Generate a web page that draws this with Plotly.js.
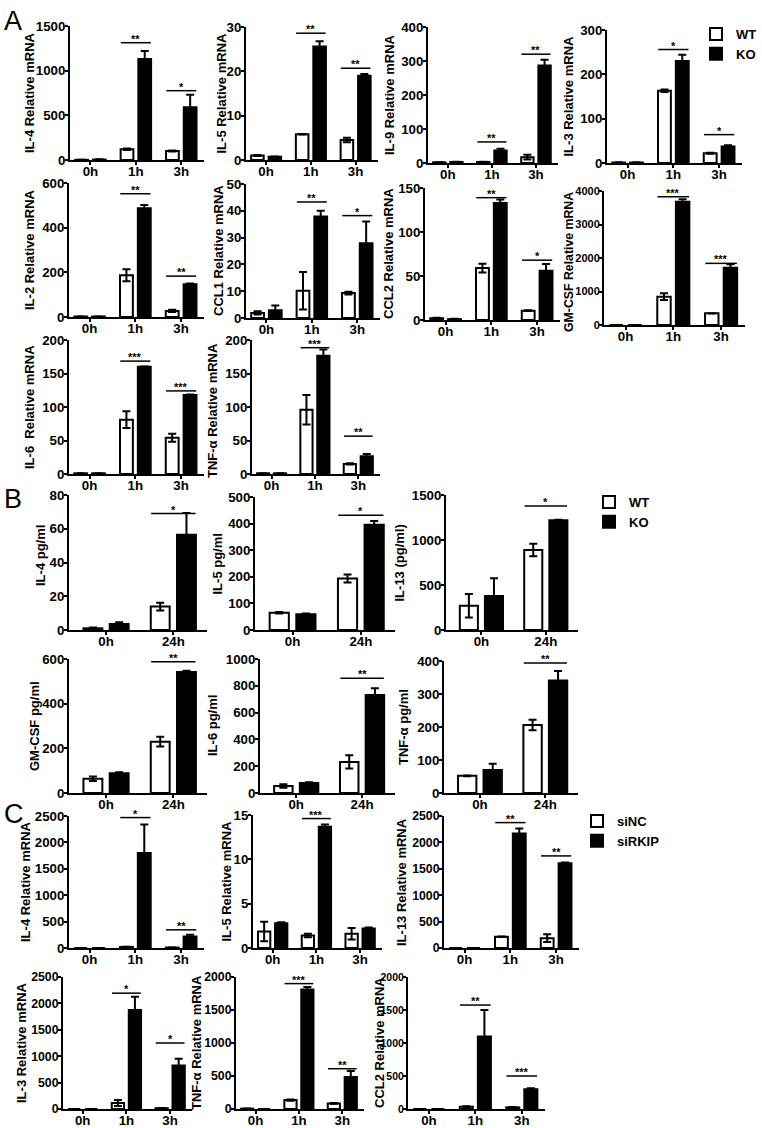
<!DOCTYPE html>
<html><head><meta charset="utf-8">
<script src="https://cdn.plot.ly/plotly-3.0.1.min.js"></script>
<style>html,body{margin:0;padding:0;background:#fff}</style>
</head><body><div id="chart" style="width:762px;height:1128px"></div>
<script>
// ---------- categories ----------
const timesA = ['0h', '1h', '3h'];
const timesB = ['0h', '24h'];
const groupNamesAB = ['WT', 'KO'];
const groupNamesC = ['siNC', 'siRKIP'];

// ---------- Panel A (Relative mRNA, WT vs KO) ----------
const aIL4_wt = [2, 120, 100], aIL4_wtErr = [1, 8, 5], aIL4_ko = [5, 1130, 590], aIL4_koErr = [2, 90, 140];
const aIL4_sigY = [null, 1313, 776], aIL4_sigTxt = ['', '**', '*'];

const aIL5_wt = [1.0, 5.8, 4.5], aIL5_wtErr = [0.1, 0.05, 0.5], aIL5_ko = [0.75, 25.6, 19.0], aIL5_koErr = [0.05, 1.2, 0.4];
const aIL5_sigY = [null, 28.6, 20.7], aIL5_sigTxt = ['', '**', '**'];

const aIL9_wt = [2, 3, 17], aIL9_wtErr = [0.5, 0.5, 7], aIL9_ko = [3, 37, 287], aIL9_koErr = [0.5, 5, 17];
const aIL9_sigY = [null, 62, 320], aIL9_sigTxt = ['', '**', '**'];

const aIL3_wt = [1, 163, 22], aIL3_wtErr = [0.5, 3, 1], aIL3_ko = [1, 230, 37], aIL3_koErr = [0.5, 14, 3];
const aIL3_sigY = [null, 256, 64], aIL3_sigTxt = ['', '*', '*'];

const aIL2_wt = [2, 187, 27], aIL2_wtErr = [0.5, 27, 5], aIL2_ko = [2, 487, 147], aIL2_koErr = [0.5, 15, 3];
const aIL2_sigY = [null, 552, 183], aIL2_sigTxt = ['', '**', '**'];

const aCCL1_wt = [1.9, 10.2, 9.3], aCCL1_wtErr = [0.6, 7, 0.5], aCCL1_ko = [2.9, 37.9, 27.9], aCCL1_koErr = [1.8, 2.1, 8.1];
const aCCL1_sigY = [null, 43.3, 38.2], aCCL1_sigTxt = ['', '**', '*'];

const aCCL2_wt = [2, 59, 10.6], aCCL2_wtErr = [0.5, 5, 0.5], aCCL2_ko = [1, 133, 56], aCCL2_koErr = [0.3, 4, 7.6];
const aCCL2_sigY = [null, 139, 68], aCCL2_sigTxt = ['', '**', '*'];

const aGMCSF_wt = [0, 846, 348], aGMCSF_wtErr = [0, 100, 5], aGMCSF_ko = [0, 3682, 1711], aGMCSF_koErr = [0, 70, 100];
const aGMCSF_sigY = [null, 3830, 1840], aGMCSF_sigTxt = ['', '***', '***'];

const aIL6_wt = [1, 81, 54], aIL6_wtErr = [0.3, 12.5, 6], aIL6_ko = [1, 160, 118], aIL6_koErr = [0.3, 0.5, 0.5];
const aIL6_sigY = [null, 168.5, 124], aIL6_sigTxt = ['', '***', '***'];

const aTNF_wt = [1, 96, 15], aTNF_wtErr = [0.3, 22, 1], aTNF_ko = [1, 176.5, 26.5], aTNF_koErr = [0.3, 9.5, 3.5];
const aTNF_sigY = [null, 188.5, 56.5], aTNF_sigTxt = ['', '***', '**'];

// ---------- Panel B (pg/ml, WT vs KO) ----------
const bIL4_wt = [1, 13.9], bIL4_wtErr = [0.5, 2.3], bIL4_ko = [3.6, 56.4], bIL4_koErr = [1, 13];
const bIL4_sigY = [null, 69], bIL4_sigTxt = ['', '*'];

const bIL5_wt = [65, 194], bIL5_wtErr = [3, 15], bIL5_ko = [59, 396], bIL5_koErr = [3, 14];
const bIL5_sigY = [null, 431], bIL5_sigTxt = ['', '*'];

const bIL13_wt = [270, 889], bIL13_wtErr = [130, 70], bIL13_ko = [378, 1219], bIL13_koErr = [196, 5];
const bIL13_sigY = [null, 1378], bIL13_sigTxt = ['', '*'];

const bGMCSF_wt = [64, 230], bGMCSF_wtErr = [10, 22], bGMCSF_ko = [88, 542], bGMCSF_koErr = [5, 5];
const bGMCSF_sigY = [null, 588], bGMCSF_sigTxt = ['', '**'];

const bIL6_wt = [52, 232], bIL6_wtErr = [13, 50], bIL6_ko = [75, 732], bIL6_koErr = [5, 50];
const bIL6_sigY = [null, 857], bIL6_sigTxt = ['', '**'];

const bTNF_wt = [52, 206], bTNF_wtErr = [1, 16], bTNF_ko = [70, 341], bTNF_koErr = [19, 29];
const bTNF_sigY = [null, 394], bTNF_sigTxt = ['', '**'];

// ---------- Panel C (Relative mRNA, siNC vs siRKIP) ----------
const cIL4_wt = [0, 20, 8], cIL4_wtErr = [0, 3, 2], cIL4_ko = [0, 1800, 219], cIL4_koErr = [0, 540, 31];
const cIL4_sigY = [null, 2470, 344], cIL4_sigTxt = ['', '*', '**'];

const cIL5_wt = [1.87, 1.42, 1.6], cIL5_wtErr = [1.1, 0.2, 0.65], cIL5_ko = [2.8, 13.67, 2.2], cIL5_koErr = [0.1, 0.25, 0.1];
const cIL5_sigY = [null, 14.6, null], cIL5_sigTxt = ['', '***', ''];

const cIL13_wt = [0, 212, 187], cIL13_wtErr = [0, 5, 75], cIL13_ko = [0, 2169, 1606], cIL13_koErr = [0, 93, 15];
const cIL13_sigY = [null, 2375, 1744], cIL13_sigTxt = ['', '**', '**'];

const cIL3_wt = [0, 112, 15], cIL3_wtErr = [0, 57, 5], cIL3_ko = [0, 1875, 825], cIL3_koErr = [0, 250, 125];
const cIL3_sigY = [null, 2194, 1250], cIL3_sigTxt = ['', '*', '*'];

const cTNF_wt = [5, 135, 85], cTNF_wtErr = [1, 10, 5], cTNF_ko = [0, 1810, 485], cTNF_koErr = [0, 40, 90];
const cTNF_sigY = [null, 1900, 610], cTNF_sigTxt = ['', '***', '**'];

const cCCL2_wt = [0, 35, 25], cCCL2_wtErr = [0, 5, 5], cCCL2_ko = [0, 1100, 300], cCCL2_koErr = [0, 400, 15];
const cCCL2_sigY = [null, 1575, 500], cCCL2_sigTxt = ['', '**', '***'];

// ---------- panel layout spec (pixel boxes: x0, x1, yTop, yBottom; tx/ty = y-title centre) ----------
const W = 762, H = 1128;
const rA = [-0.45, 2.5], rB = [-0.55, 1.5];
const panels = [
  {t: timesA, wt: aIL4_wt, we: aIL4_wtErr, ko: aIL4_ko, ke: aIL4_koErr, sy: aIL4_sigY, st: aIL4_sigTxt, title: 'IL-4 Relative mRNA', box: [70, 204, 26, 160], tx: 30, ymax: 1500, dt: 500, xr: rA, names: groupNamesAB, leg: 'legend'},
  {t: timesA, wt: aIL5_wt, we: aIL5_wtErr, ko: aIL5_ko, ke: aIL5_koErr, sy: aIL5_sigY, st: aIL5_sigTxt, title: 'IL-5 Relative mRNA', box: [246, 378, 27, 160], tx: 221, ymax: 30, dt: 10, xr: rA, names: groupNamesAB},
  {t: timesA, wt: aIL9_wt, we: aIL9_wtErr, ko: aIL9_ko, ke: aIL9_koErr, sy: aIL9_sigY, st: aIL9_sigTxt, title: 'IL-9 Relative mRNA', box: [428, 558, 27, 163], tx: 389, ymax: 400, dt: 100, xr: rA, names: groupNamesAB},
  {t: timesA, wt: aIL3_wt, we: aIL3_wtErr, ko: aIL3_ko, ke: aIL3_koErr, sy: aIL3_sigY, st: aIL3_sigTxt, title: 'IL-3 Relative mRNA', box: [607, 742, 30, 163], tx: 568, ymax: 300, dt: 100, xr: rA, names: groupNamesAB},
  {t: timesA, wt: aIL2_wt, we: aIL2_wtErr, ko: aIL2_ko, ke: aIL2_koErr, sy: aIL2_sigY, st: aIL2_sigTxt, title: 'IL-2 Relative mRNA', box: [69, 204, 183, 317], tx: 30, ymax: 600, dt: 200, xr: rA, names: groupNamesAB},
  {t: timesA, wt: aCCL1_wt, we: aCCL1_wtErr, ko: aCCL1_ko, ke: aCCL1_koErr, sy: aCCL1_sigY, st: aCCL1_sigTxt, title: 'CCL1 Relative mRNA', box: [246, 380, 184, 318], tx: 219, ymax: 50, dt: 10, xr: rA, names: groupNamesAB},
  {t: timesA, wt: aCCL2_wt, we: aCCL2_wtErr, ko: aCCL2_ko, ke: aCCL2_koErr, sy: aCCL2_sigY, st: aCCL2_sigTxt, title: 'CCL2 Relative mRNA', box: [425, 560, 188, 320], tx: 388, ymax: 150, dt: 50, xr: rA, names: groupNamesAB},
  {t: timesA, wt: aGMCSF_wt, we: aGMCSF_wtErr, ko: aGMCSF_ko, ke: aGMCSF_koErr, sy: aGMCSF_sigY, st: aGMCSF_sigTxt, title: 'GM-CSF Relative mRNA', box: [604, 745, 191, 325], tx: 569, ty: 262, ts: 12.3, tf: 11, ymax: 4000, dt: 1000, xr: rA, names: groupNamesAB},
  {t: timesA, wt: aIL6_wt, we: aIL6_wtErr, ko: aIL6_ko, ke: aIL6_koErr, sy: aIL6_sigY, st: aIL6_sigTxt, title: 'IL-6  Relative mRNA', box: [69, 204, 340, 474], tx: 29, ymax: 200, dt: 50, xr: rA, names: groupNamesAB},
  {t: timesA, wt: aTNF_wt, we: aTNF_wtErr, ko: aTNF_ko, ke: aTNF_koErr, sy: aTNF_sigY, st: aTNF_sigTxt, title: 'TNF-α Relative mRNA', box: [252, 380, 340, 474], tx: 213, ty: 411, ymax: 200, dt: 50, xr: rA, names: groupNamesAB},

  {t: timesB, wt: bIL4_wt, we: bIL4_wtErr, ko: bIL4_ko, ke: bIL4_koErr, sy: bIL4_sigY, st: bIL4_sigTxt, title: 'IL-4 pg/ml', box: [69, 207, 495, 630], tx: 40, ty: 556, ymax: 80, dt: 20, xr: rB, names: groupNamesAB, leg: 'legend2'},
  {t: timesB, wt: bIL5_wt, we: bIL5_wtErr, ko: bIL5_ko, ke: bIL5_koErr, sy: bIL5_sigY, st: bIL5_sigTxt, title: 'IL-5 pg/ml', box: [255, 395, 497, 630], tx: 217, ymax: 500, dt: 100, xr: rB, names: groupNamesAB},
  {t: timesB, wt: bIL13_wt, we: bIL13_wtErr, ko: bIL13_ko, ke: bIL13_koErr, sy: bIL13_sigY, st: bIL13_sigTxt, title: 'IL-13 (pg/ml)', box: [446, 578, 495, 630], tx: 399, ymax: 1500, dt: 500, xr: rB, names: groupNamesAB},
  {t: timesB, wt: bGMCSF_wt, we: bGMCSF_wtErr, ko: bGMCSF_ko, ke: bGMCSF_koErr, sy: bGMCSF_sigY, st: bGMCSF_sigTxt, title: 'GM-CSF pg/ml', box: [69, 207, 659, 793], tx: 34, ymax: 600, dt: 200, xr: rB, names: groupNamesAB},
  {t: timesB, wt: bIL6_wt, we: bIL6_wtErr, ko: bIL6_ko, ke: bIL6_koErr, sy: bIL6_sigY, st: bIL6_sigTxt, title: 'IL-6 pg/ml', box: [260, 395, 659, 793], tx: 212, ymax: 1000, dt: 200, xr: rB, names: groupNamesAB},
  {t: timesB, wt: bTNF_wt, we: bTNF_wtErr, ko: bTNF_ko, ke: bTNF_koErr, sy: bTNF_sigY, st: bTNF_sigTxt, title: 'TNF-α pg/ml', box: [444, 578, 661, 793], tx: 404, ymax: 400, dt: 100, xr: rB, names: groupNamesAB},

  {t: timesA, wt: cIL4_wt, we: cIL4_wtErr, ko: cIL4_ko, ke: cIL4_koErr, sy: cIL4_sigY, st: cIL4_sigTxt, title: 'IL-4 Relative mRNA', box: [69, 204, 816, 948], tx: 25, ymax: 2500, dt: 500, xr: rA, names: groupNamesC, leg: 'legend3'},
  {t: timesA, wt: cIL5_wt, we: cIL5_wtErr, ko: cIL5_ko, ke: cIL5_koErr, sy: cIL5_sigY, st: cIL5_sigTxt, title: 'IL-5 Relative mRNA', box: [253, 382, 815, 948], tx: 226, ymax: 15, dt: 5, xr: rA, names: groupNamesC},
  {t: timesA, wt: cIL13_wt, we: cIL13_wtErr, ko: cIL13_ko, ke: cIL13_koErr, sy: cIL13_sigY, st: cIL13_sigTxt, title: 'IL-13 Relative mRNA', box: [444, 579, 816, 948], tx: 401, tf: 12.3, ymax: 2500, dt: 500, xr: rA, names: groupNamesC},
  {t: timesA, wt: cIL3_wt, we: cIL3_wtErr, ko: cIL3_ko, ke: cIL3_koErr, sy: cIL3_sigY, st: cIL3_sigTxt, title: 'IL-3 Relative mRNA', box: [63, 192, 977, 1109], tx: 21, tf: 12.3, ymax: 2500, dt: 500, xr: rA, names: groupNamesC},
  {t: timesA, wt: cTNF_wt, we: cTNF_wtErr, ko: cTNF_ko, ke: cTNF_koErr, sy: cTNF_sigY, st: cTNF_sigTxt, title: 'TNF-α Relative mRNA', box: [236, 364, 977, 1109], tx: 196, tf: 12.3, ymax: 2000, dt: 500, xr: rA, names: groupNamesC},
  {t: timesA, wt: cCCL2_wt, we: cCCL2_wtErr, ko: cCCL2_ko, ke: cCCL2_koErr, sy: cCCL2_sigY, st: cCCL2_sigTxt, title: 'CCL2 Relative mRNA', box: [408, 545, 977, 1109], tx: 379, tf: 10.5, ymax: 2000, dt: 500, xr: rA, names: groupNamesC}
];

const FONT = 'Liberation Sans, Arial, Helvetica, sans-serif';
const data = [];
const legFont = {size: 13, weight: 'bold', color: 'black', family: FONT};
const layout = {
  width: W, height: H,
  margin: {l: 0, r: 0, t: 0, b: 0},
  paper_bgcolor: 'white', plot_bgcolor: 'rgba(0,0,0,0)',
  font: {family: FONT, color: 'black'},
  barmode: 'group', bargap: 0.22, bargroupgap: 0.28,
  shapes: [], annotations: [],
  legend: {x: 1, y: 1 - 19 / H, xanchor: 'right', yanchor: 'top', font: legFont, bgcolor: 'rgba(0,0,0,0)', tracegroupgap: 0},
  legend2: {x: 589 / W, y: 1 - 487 / H, xanchor: 'left', yanchor: 'top', font: legFont, bgcolor: 'rgba(0,0,0,0)', tracegroupgap: 0},
  legend3: {x: 577 / W, y: 1 - 806 / H, xanchor: 'left', yanchor: 'top', font: legFont, bgcolor: 'rgba(0,0,0,0)', tracegroupgap: 0}
};

panels.forEach((p, k) => {
  const n = k + 1;
  const sfx = n === 1 ? '' : String(n);
  const xr = 'x' + sfx, yr = 'y' + sfx;
  const [x0, x1, yt, yb] = p.box;
  const showLeg = !!p.leg;
  const tickSize = p.tf || 13.3;
  const errStyle = {type: 'data', visible: true, color: 'black', thickness: 2, width: 4};
  data.push({
    type: 'bar', x: p.t, y: p.wt, name: p.names[0], xaxis: xr, yaxis: yr,
    marker: {color: 'white', line: {color: 'black', width: 2}},
    error_y: Object.assign({array: p.we}, errStyle),
    showlegend: showLeg, legend: p.leg || 'legend', hoverinfo: 'skip'
  });
  data.push({
    type: 'bar', x: p.t, y: p.ko, name: p.names[1], xaxis: xr, yaxis: yr,
    marker: {color: 'black', line: {color: 'black', width: 2}},
    error_y: Object.assign({array: p.ke}, errStyle),
    showlegend: showLeg, legend: p.leg || 'legend', hoverinfo: 'skip'
  });
  layout['xaxis' + sfx] = {
    domain: [x0 / W, x1 / W], anchor: yr, type: 'category', range: p.xr,
    showline: true, linewidth: 2, linecolor: 'black', ticks: 'outside', ticklen: 3, tickwidth: 2, tickcolor: 'black',
    showgrid: false, zeroline: false, fixedrange: true, ticklabelstandoff: -5,
    tickfont: {size: 13.3, weight: 'bold', color: 'black', family: FONT}
  };
  layout['yaxis' + sfx] = {
    domain: [1 - yb / H, 1 - yt / H], anchor: xr, range: [0, p.ymax], tick0: 0, dtick: p.dt,
    showline: true, linewidth: 2, linecolor: 'black', ticks: 'outside', ticklen: 3, tickwidth: 2, tickcolor: 'black',
    showgrid: false, zeroline: false, fixedrange: true, ticklabelstandoff: -3,
    tickfont: {size: tickSize, weight: 'bold', color: 'black', family: FONT}
  };
  // y-axis title
  const ty = p.ty !== undefined ? p.ty : (yt + yb) / 2;
  layout.annotations.push({xref: 'paper', yref: 'paper', x: p.tx / W, y: 1 - ty / H, xanchor: 'center', yanchor: 'middle',
    text: p.title, textangle: -90, showarrow: false, font: {size: p.ts || 13, weight: 'bold', color: 'black', family: FONT}});
  // significance bars
  p.sy.forEach((v, j) => {
    if (v === null) return;
    layout.shapes.push({type: 'line', xref: xr, yref: yr, x0: j - 0.33, x1: j + 0.33, y0: v, y1: v, line: {color: 'black', width: 1.5}});
    layout.annotations.push({xref: xr, yref: yr, x: j, y: v, text: p.st[j], showarrow: false, yanchor: 'bottom', yshift: -4,
      font: {size: 11, weight: 'bold', color: 'black', family: FONT}});
  });
});

// panel letters
[['A', 4], ['B', 482], ['C', 797]].forEach(([t, y]) => {
  layout.annotations.push({xref: 'paper', yref: 'paper', x: 2 / W, y: 1 - y / H, xanchor: 'left', yanchor: 'top',
    text: t, showarrow: false, font: {size: 27, family: FONT, color: 'black'}});
});

Plotly.newPlot('chart', data, layout, {staticPlot: true, displayModeBar: false});
</script>
</body></html>
